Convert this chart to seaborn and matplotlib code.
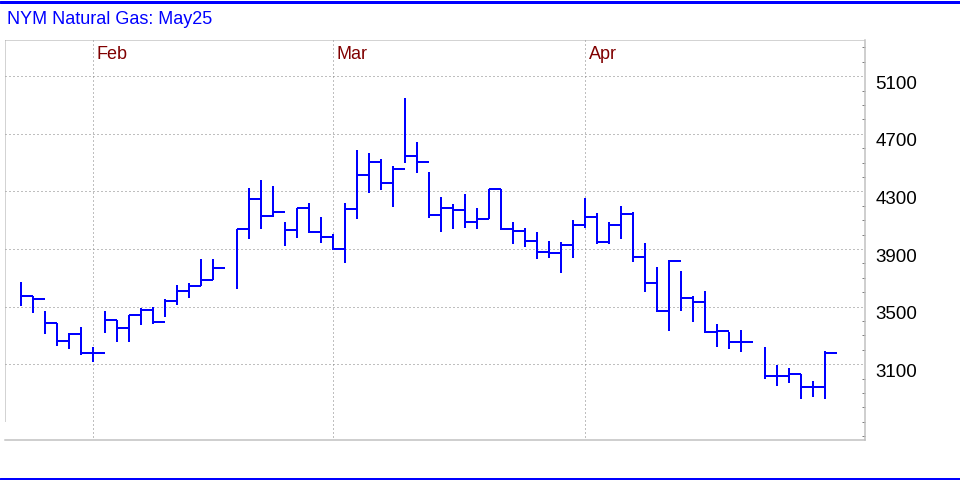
import numpy as np
import pandas as pd
import matplotlib
matplotlib.use("Agg")
import matplotlib.pyplot as plt
import matplotlib.transforms as mtrans
from matplotlib.lines import Line2D
from matplotlib.ticker import FixedLocator, MultipleLocator
import seaborn as sns

nan = np.nan
# trading days, bar chart (high / low / close)
dates = pd.bdate_range("2025-01-24", periods=68)
highs = [3671, 3574, 3470, 3387, 3317, 3359, 3220, 3470, 3408, 3442, 3491, 3498, 3553, 3651, 3665, 3831, 3831, nan,
         4040, 4324, 4380, 4338, 4088, 4185, 4220, 4123, 4005, 4220, 4588, 4567, 4526, 4477, 4949, 4644, 4435, 4262,
         4213, 4283, 4185, 4317, 4317, 4088, 4046, 4019, 3956, 3949, 4102, 4255, 4151, 4088, 4199, 4158, 3942, 3776,
         3824, 3748, 3574, 3609, 3380, 3324, 3338, nan, 3220, 3095, 3074, 3033, 2984, 3192]
lows = [3505, 3456, 3310, 3227, 3206, 3165, 3116, 3317, 3255, 3255, 3373, 3380, 3428, 3512, 3560, 3644, 3685, nan,
        3623, 3970, 4040, 4123, 3922, 3977, 4012, 3942, 3894, 3803, 4109, 4290, 4310, 4192, 4498, 4428, 4116, 4019,
        4040, 4046, 4040, 4109, 4033, 3935, 3915, 3831, 3838, 3734, 3838, 4046, 3935, 3935, 3970, 3810, 3602, 3463,
        3331, 3470, 3394, 3317, 3220, 3206, 3185, nan, 2998, 2949, 2970, 2859, 2873, 2859]
closes = [3574, 3553, 3387, 3262, 3310, 3178, 3178, 3408, 3352, 3442, 3477, 3394, 3540, 3609, 3644, 3685, 3769, nan,
          4040, 4248, 4130, 4158, 4033, 4185, 4019, 3984, 3901, 4178, 4415, 4505, 4359, 4456, 4546, 4505, 4137, 4185,
          4171, 4088, 4109, 4317, 4040, 4026, 3956, 3880, 3873, 3928, 4067, 4123, 3949, 4067, 4144, 3845, 3665, 3470,
          3817, 3560, 3533, 3324, 3331, 3255, 3255, nan, 3019, 3019, 3033, 2942, 2942, 3178]
month_labels = ["Feb", "Mar", "Apr"]
month_starts = ["2025-02-03", "2025-03-03", "2025-04-01"]
y_ticks = [3100, 3500, 3900, 4300, 4700, 5100]
title = "NYM Natural Gas: May25"

df = pd.DataFrame({"date": dates, "high": highs, "low": lows, "close": closes})
df["pos"] = np.arange(len(df))
bars = df.dropna()

sns.set_theme(style="white")
plt.rcParams["font.family"] = ["Liberation Sans", "DejaVu Sans"]
plt.rcParams["lines.scale_dashes"] = False

fig = plt.figure(figsize=(9.6, 4.8), dpi=100)
ax = fig.add_axes([5 / 960, 40 / 480, 860 / 960, 400 / 480])

blue = "#0000ff"
px = 0.72  # one pixel in points
dots = (0, (1 * px, 3 * px))
fine_dots = (0, (1 * px, 1 * px))
grid_c = "#808080"

ax.set_xlim(-16 / 12, 844 / 12)
ax.set_ylim(2574, 5352)

# grid
for v in y_ticks:
    ax.axhline(v, xmax=0.998, color=grid_c, lw=px, ls=dots, zorder=0)
month_pos = [df.index[df["date"] == pd.Timestamp(m)][0] for m in month_starts]
for p, lab in zip(month_pos, month_labels):
    ax.axvline(p, ymin=0.008, color=grid_c, lw=px, ls=dots, zorder=0)
    ax.text(p + 0.3, 0.985, lab, transform=ax.get_xaxis_transform(), ha="left", va="top",
            color="#800000", fontsize=13)
ax.axhline(ax.get_ylim()[1], color="#a8a8a8", lw=px, ls=fine_dots, clip_on=False)
ax.axvline(ax.get_xlim()[0], ymin=0.048, color="#a8a8a8", lw=px, ls=fine_dots, clip_on=False)

# HLC bars
ax.vlines(bars["pos"], bars["low"], bars["high"], color=blue, lw=2 * px, zorder=3)
ax.hlines(bars["close"], bars["pos"], bars["pos"] + 1, color=blue, lw=2 * px, zorder=3)

for s in ["top", "left"]:
    ax.spines[s].set_visible(False)
for s in ["right", "bottom"]:
    ax.spines[s].set_color("#c0c0c0")
    ax.spines[s].set_linewidth(1.5 * px)

ax.set_xticks([])
ax.yaxis.tick_right()
ax.yaxis.set_major_locator(FixedLocator(y_ticks))
ax.yaxis.set_minor_locator(MultipleLocator(100))
ax.tick_params(axis="y", which="major", length=0, pad=7.5, labelsize=13.5, labelcolor="black")
ax.tick_params(axis="y", which="minor", right=True, direction="in", length=3 * px, width=px, color="#808080")
shift = mtrans.ScaledTranslation(0, -6 / 100, fig.dpi_scale_trans)
for lab in ax.get_yticklabels():
    lab.set_transform(lab.get_transform() + shift)

fig.text(7 / 960, 1 - 20 / 480, title, color=blue, fontsize=13, ha="left", va="center")
fig.add_artist(Line2D([0, 1], [1 - 1.5 / 480] * 2, transform=fig.transFigure, color=blue, lw=3 * px))
fig.add_artist(Line2D([0, 1], [1.5 / 480] * 2, transform=fig.transFigure, color=blue, lw=3 * px))

fig.savefig("out.png", dpi=100, facecolor="white")
